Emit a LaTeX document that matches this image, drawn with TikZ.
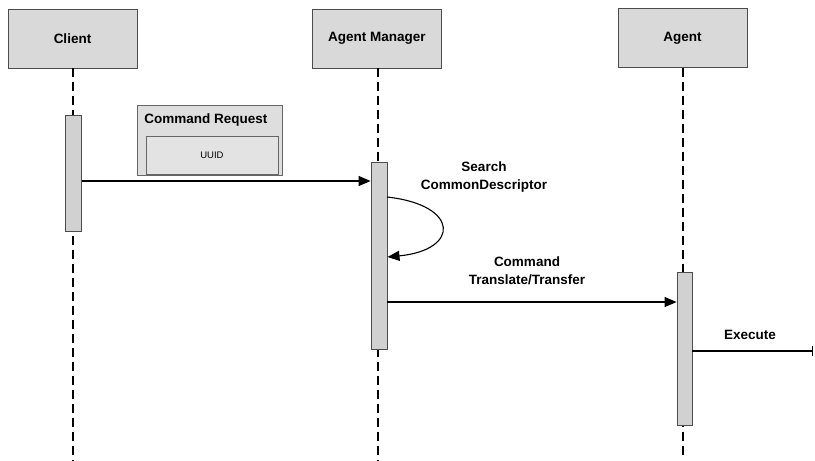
\documentclass[tikz,border=0pt]{standalone}
\usepackage{fontspec}
\setmainfont{Liberation Sans}
\usetikzlibrary{arrows.meta}
\begin{document}
\begin{tikzpicture}[x=1pt,y=-1pt,
  actor/.style={draw=black!70, line width=0.8pt, fill=black!15, minimum width=129pt, minimum height=59pt, inner sep=0pt, font=\fontsize{13.5}{15}\selectfont\bfseries},
  actbar/.style={draw=black!70, line width=0.8pt, fill=black!18, minimum width=16pt, inner sep=0pt},
  lifeline/.style={line width=1.8pt, dash pattern=on 9pt off 5pt},
  msg/.style={line width=1.1pt, -{Triangle[length=12pt,width=10pt]}},
  lbl/.style={font=\fontsize{13.5}{15}\selectfont\bfseries, align=center, inner sep=0pt},
  framebox/.style={draw=black!60, line width=0.8pt, fill=black!13, inner sep=0pt}]
  \useasboundingbox (0,0) rectangle (815,461);

  % participants
  \node[actor] (client) at (72.5,38.5) {Client};
  \node[actor] (mgr) at (377,38.5) {Agent Manager};
  \node[actor] (agent) at (682.5,38) {Agent};

  % lifeline ends
  \coordinate (clientEnd) at (73,461);
  \coordinate (mgrEnd) at (378,461);
  \coordinate (agentEnd) at (683,456);
  \draw[lifeline] (client.south -| clientEnd) -- (clientEnd);
  \draw[lifeline] (mgr.south -| mgrEnd) -- (mgrEnd);
  \draw[lifeline] (agent.south -| agentEnd) -- (agentEnd);

  % activation bars
  \node[actbar, minimum height=116pt] (cact) at (73.5,173) {};
  \node[actbar, minimum height=187pt] (mact) at (379,255.5) {};
  \node[actbar, minimum width=15pt, minimum height=153pt] (aact) at (684.5,348.5) {};

  % message payload
  \node[framebox, minimum width=145pt, minimum height=70pt] (req) at (209.5,140) {};
  \node[framebox, fill=black!11, minimum width=132pt, minimum height=38pt] (uuid) at (212,155) {\fontsize{9.5}{11}\selectfont UUID};
  \node[lbl] (reqlbl) at (206,120) {Command Request};

  % messages
  \draw[msg] (cact.east |- 0,181) -- (mact.west |- 0,181);
  \coordinate (selfA) at (387,197);
  \coordinate (selfB) at (387.5,257);
  \draw[msg] (selfA) .. controls (460,205) and (460,250) .. (selfB);
  \node[lbl] (search) at (484,177) {Search\\[3pt]CommonDescriptor};
  \draw[msg] (mact.east |- 0,302) -- (aact.west |- 0,302);
  \node[lbl] (cmd) at (527,271) {Command\\[3pt]Translate/Transfer};
  \coordinate (execEnd) at (813,351);
  \draw[line width=1.1pt, -{Bar[width=10pt]}] (aact.east |- execEnd) -- (execEnd);
  \node[lbl] (exec) at (750,335) {Execute};
\end{tikzpicture}
\end{document}
